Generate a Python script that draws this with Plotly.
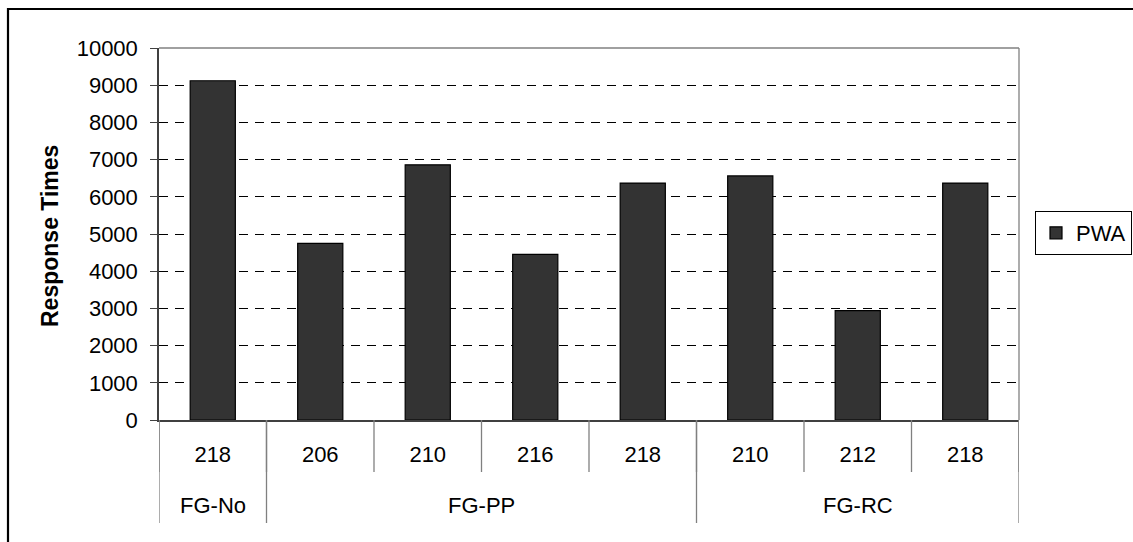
import plotly.graph_objects as go

# data
groups = ["FG-No", "FG-PP", "FG-PP", "FG-PP", "FG-PP", "FG-RC", "FG-RC", "FG-RC"]
subs = ["218", "206", "210", "216", "218", "210", "212", "218"]
pwa = [9120, 4750, 6860, 4450, 6370, 6560, 2940, 6370]
y_ticks = list(range(0, 10001, 1000))

FONT = "Liberation Sans, Arial, sans-serif"
W, H = 1133, 542
L, R, T, B = 159, 114, 48, 122
plot_h = H - T - B
plot_w = W - L - R


def py(px):
    # pixel row -> paper y
    return (H - B - px) / plot_h


def pxx(px):
    # pixel column -> paper x
    return (px - L) / plot_w


xpos = list(range(len(subs)))

fig = go.Figure()
fig.add_trace(go.Bar(
    x=xpos, y=pwa, name="PWA",
    marker=dict(color="#333333", line=dict(color="black", width=1.2)),
    width=0.42,
))

shapes = []
annotations = []

# separators between the first-row categories
for i in range(len(subs) + 1):
    shapes.append(dict(type="line", xref="x", yref="paper",
                       x0=i - 0.5, x1=i - 0.5, y0=0, y1=py(472),
                       line=dict(color="#808080", width=1.3)))

# group separators and labels
start = 0
for i in range(1, len(groups) + 1):
    if i == len(groups) or groups[i] != groups[start]:
        shapes.append(dict(type="line", xref="x", yref="paper",
                           x0=start - 0.5, x1=start - 0.5, y0=0, y1=py(523),
                           line=dict(color="#808080", width=1.3)))
        annotations.append(dict(xref="x", yref="paper", x=(start + i - 1) / 2,
                                y=py(505), text=groups[start], showarrow=False,
                                xanchor="center", yanchor="middle",
                                font=dict(size=22, color="black", family=FONT)))
        start = i
shapes.append(dict(type="line", xref="x", yref="paper",
                   x0=len(groups) - 0.5, x1=len(groups) - 0.5, y0=0, y1=py(523),
                   line=dict(color="#808080", width=1.3)))

# plot-area border (top and right, grey)
shapes.append(dict(type="line", xref="paper", yref="paper", x0=0, x1=1, y0=1, y1=1,
                   line=dict(color="#808080", width=1.3), layer="above"))
shapes.append(dict(type="line", xref="paper", yref="paper", x0=1, x1=1, y0=0, y1=1,
                   line=dict(color="#808080", width=1.3), layer="above"))

# chart border (only top and left are inside the picture)
shapes.append(dict(type="rect", xref="paper", yref="paper",
                   x0=pxx(8), x1=pxx(1150), y0=py(9), y1=py(560),
                   line=dict(color="black", width=2.2), fillcolor="rgba(0,0,0,0)"))

annotations.append(dict(xref="paper", yref="paper", x=pxx(50), y=py(236),
                        text="<b>Response Times</b>", textangle=-90, showarrow=False,
                        xanchor="center", yanchor="middle",
                        font=dict(size=23, color="black", family=FONT)))

fig.update_layout(
    width=W, height=H,
    margin=dict(l=L, r=R, t=T, b=B, autoexpand=False),
    paper_bgcolor="white", plot_bgcolor="white",
    font=dict(family=FONT, size=22, color="black"),
    showlegend=True,
    legend=dict(x=pxx(1035), xanchor="left", y=py(233), yanchor="middle",
                bordercolor="black", borderwidth=1, bgcolor="white",
                itemwidth=30, font=dict(size=22, family=FONT)),
    shapes=shapes, annotations=annotations,
)
fig.update_xaxes(
    range=[-0.5, len(subs) - 0.5], tickvals=xpos, ticktext=subs,
    showgrid=False, zeroline=False, showline=True, linecolor="#404040", linewidth=1.5,
    ticks="", ticklabelstandoff=14, tickfont=dict(size=22, family=FONT),
)
fig.update_yaxes(
    range=[0, 10000], tickvals=y_ticks, tickformat="d", showgrid=True, gridcolor="black",
    griddash="9px,7px", gridwidth=1, zeroline=False,
    showline=True, linecolor="#404040", linewidth=1.5,
    ticks="outside", ticklen=7, tickcolor="#404040", tickwidth=1.3,
    ticklabelstandoff=8, tickfont=dict(size=22, family=FONT),
)

fig.write_html("out.html", config={"displayModeBar": False},
               post_script="document.body.style.margin = '0';")
